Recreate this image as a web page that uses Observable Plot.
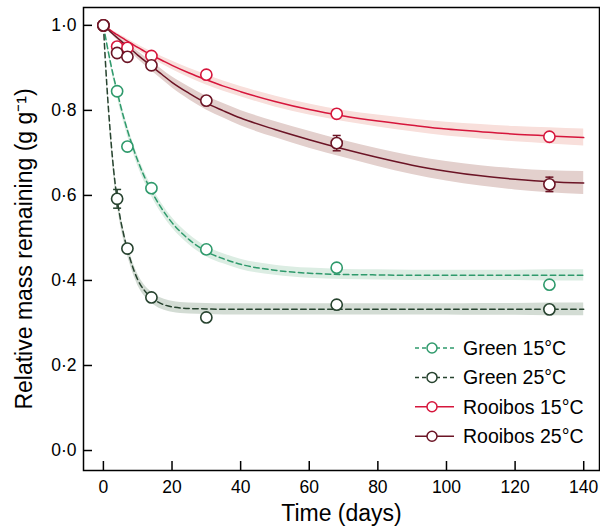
<!DOCTYPE html>
<html><head><meta charset="utf-8">
<script src="https://cdn.jsdelivr.net/npm/d3@7"></script>
<script src="https://cdn.jsdelivr.net/npm/@observablehq/plot@0.6"></script>
<style>
body{margin:0;background:#fff;}
#wrap{position:relative;width:600px;height:527px;}
#wrap svg.legend{position:absolute;left:0;top:0;pointer-events:none;}
</style></head><body><div id="wrap"></div>
<script>
// ---- data ----
const series = ["Green 15°C", "Green 25°C", "Rooibos 15°C", "Rooibos 25°C"];
const days = [0, 4, 7, 14, 30, 68, 130];
const green15 = [1.000, 0.845, 0.715, 0.617, 0.473, 0.430, 0.390];
const green25 = [1.000, 0.592, 0.475, 0.360, 0.313, 0.343, 0.332];
const rooibos15 = [1.000, 0.950, 0.947, 0.928, 0.884, 0.792, 0.738];
const rooibos25 = [1.000, 0.935, 0.926, 0.906, 0.823, 0.723, 0.626];
const green15Se = [0, 0.006, 0.006, 0.006, 0.006, 0.006, 0.006];
const green25Se = [0, 0.022, 0.006, 0.006, 0.005, 0.006, 0.005];
const rooibos15Se = [0, 0.004, 0.004, 0.004, 0.005, 0.005, 0.005];
const rooibos25Se = [0, 0.005, 0.005, 0.005, 0.006, 0.018, 0.017];

// fitted curves
const fitDays = [0,1,2,3,4,5,6,7,8,10,12,14,17,20,25,30,35,40,50,60,70,80,90,100,110,120,130,140];
const green15Fit = [1.000,0.956,0.915,0.878,0.845,0.811,0.781,0.753,0.728,0.682,0.643,0.610,0.569,0.536,0.496,0.468,0.451,0.438,0.424,0.417,0.414,0.413,0.412,0.412,0.412,0.412,0.412,0.412];
const green25Fit = [1.000,0.860,0.749,0.659,0.592,0.543,0.505,0.472,0.445,0.402,0.376,0.360,0.345,0.338,0.334,0.333,0.332,0.332,0.332,0.332,0.332,0.332,0.332,0.332,0.332,0.332,0.332,0.332];
const rooibos15Fit = [1.000,0.994,0.989,0.983,0.978,0.973,0.968,0.963,0.958,0.948,0.939,0.930,0.918,0.906,0.888,0.872,0.857,0.844,0.821,0.802,0.787,0.775,0.765,0.756,0.750,0.744,0.740,0.736];
const rooibos25Fit = [1.000,0.993,0.985,0.978,0.971,0.964,0.957,0.950,0.944,0.930,0.917,0.904,0.885,0.866,0.840,0.817,0.799,0.782,0.755,0.731,0.709,0.689,0.671,0.657,0.646,0.638,0.632,0.629];
// half-widths of the shaded confidence bands
const green15Band = [0,0.004,0.007,0.009,0.011,0.012,0.012,0.012,0.012,0.012,0.012,0.012,0.012,0.012,0.012,0.012,0.012,0.012,0.012,0.012,0.012,0.012,0.012,0.012,0.012,0.012,0.013,0.013];
const green25Band = [0,0.006,0.010,0.012,0.013,0.013,0.013,0.013,0.013,0.013,0.013,0.013,0.013,0.013,0.013,0.013,0.013,0.013,0.013,0.013,0.013,0.013,0.013,0.013,0.014,0.014,0.015,0.015];
const rooibos15Band = [0,0.001,0.002,0.003,0.004,0.004,0.005,0.005,0.006,0.007,0.007,0.008,0.009,0.010,0.011,0.012,0.012,0.012,0.013,0.013,0.013,0.014,0.015,0.016,0.017,0.018,0.019,0.020];
const rooibos25Band = [0,0.001,0.003,0.004,0.005,0.006,0.007,0.008,0.008,0.009,0.010,0.011,0.012,0.013,0.015,0.016,0.017,0.018,0.019,0.020,0.020,0.021,0.022,0.023,0.024,0.025,0.026,0.027];

const xTicks = [0, 20, 40, 60, 80, 100, 120, 140];
const yTicks = [0, 0.2, 0.4, 0.6, 0.8, 1.0];
const xLabel = "Time (days)";
const yLabel = "Relative mass remaining (g g\u207B\u00B9)";

// ---- styles ----
const lineColors = ["#2f9a6c", "#27432f", "#d6163c", "#6b1425"];
const bandColors = ["#dcede3", "#d3dcd4", "#f8dfdb", "#e3d0cd"];
const dashes = ["5.5,3.5", "5.5,3.5", null, null];
const font = "Liberation Sans, Arial, Helvetica, sans-serif";

const obsVals = [green15, green25, rooibos15, rooibos25];
const obsSe = [green15Se, green25Se, rooibos15Se, rooibos25Se];
const fitVals = [green15Fit, green25Fit, rooibos15Fit, rooibos25Fit];
const bandVals = [green15Band, green25Band, rooibos15Band, rooibos25Band];

const W = 600, H = 527, mL = 83, mR = 1, mT = 7, mB = 57;
const innerW = W - mL - mR, innerH = H - mT - mB;
const tickLen = 9;

const fmtY = d => d.toFixed(1).replace(".", "\u00B7");
const capSymbol = {draw(ctx) { ctx.moveTo(-4, 0); ctx.lineTo(4, 0); }};

const marks = [];
series.forEach((s, i) => {
  const rows = fitDays.map((t, j) => ({t, v: fitVals[i][j], lo: fitVals[i][j] - bandVals[i][j], hi: fitVals[i][j] + bandVals[i][j]}));
  marks.push(Plot.areaY(rows, {x: "t", y1: "lo", y2: "hi", fill: bandColors[i], curve: "monotone-x"}));
});
series.forEach((s, i) => {
  const rows = fitDays.map((t, j) => ({t, v: fitVals[i][j]}));
  marks.push(Plot.line(rows, {x: "t", y: "v", stroke: lineColors[i], strokeWidth: 1.5, strokeDasharray: dashes[i], curve: "monotone-x"}));
});
series.forEach((s, i) => {
  const pts = days.map((t, j) => ({t, y: obsVals[i][j], se: obsSe[i][j]}));
  marks.push(Plot.ruleX(pts, {x: "t", y1: d => d.y - d.se, y2: d => d.y + d.se, stroke: lineColors[i], strokeWidth: 1.5}));
  marks.push(Plot.dot(pts, {x: "t", y: d => d.y + d.se, symbol: capSymbol, stroke: lineColors[i], strokeWidth: 1.5}));
  marks.push(Plot.dot(pts, {x: "t", y: d => d.y - d.se, symbol: capSymbol, stroke: lineColors[i], strokeWidth: 1.5}));
});
series.forEach((s, i) => {
  const pts = days.map((t, j) => ({t, y: obsVals[i][j]}));
  marks.push(Plot.dot(pts, {x: "t", y: "y", r: 5.6, fill: "white", stroke: lineColors[i], strokeWidth: 1.6}));
});

// axes: inward ticks, labels outside
marks.push(Plot.ruleX(xTicks, {x: d => d, insetTop: innerH - tickLen, stroke: "black", strokeWidth: 1.5}));
marks.push(Plot.ruleY(yTicks, {y: d => d, insetRight: innerW - tickLen, stroke: "black", strokeWidth: 1.5}));
marks.push(Plot.axisX({ticks: xTicks, tickSize: 0, tickPadding: 10, fontSize: 17.5, label: null}));
marks.push(Plot.axisY({ticks: yTicks, tickSize: 0, tickPadding: 7, fontSize: 17.5, tickFormat: fmtY, label: null}));
marks.push(Plot.frame({stroke: "black", strokeWidth: 1.5}));
marks.push(Plot.text([xLabel], {frameAnchor: "bottom", dy: 43, textAnchor: "middle", lineAnchor: "middle", fontSize: 23, fill: "black"}));
marks.push(Plot.text([yLabel], {frameAnchor: "left", dx: -59, dy: 10, rotate: -90, textAnchor: "middle", lineAnchor: "middle", fontSize: 23, fill: "black"}));

const chart = Plot.plot({
  width: W, height: H,
  marginLeft: mL, marginRight: mR, marginTop: mT, marginBottom: mB,
  style: {fontFamily: font, color: "black", background: "white", overflow: "visible"},
  x: {domain: [-5.8, 144.6]},
  y: {domain: [-0.047, 1.042]},
  marks
});
const wrap = document.getElementById("wrap");
wrap.appendChild(chart);

// legend
const leg = d3.select(wrap).append("svg").attr("class", "legend").attr("width", W).attr("height", H)
  .style("font-family", font);
const legX0 = 415, legX1 = 454, legCx = 432, legTx = 463, legY0 = 348, legStep = 29.4;
series.forEach((s, i) => {
  const g = leg.append("g").attr("transform", `translate(0,${legY0 + i * legStep})`);
  g.append("line").attr("x1", legX0).attr("x2", legX1).attr("y1", 0).attr("y2", 0)
    .attr("stroke", lineColors[i]).attr("stroke-width", 1.5).attr("stroke-dasharray", dashes[i] ? "4,3" : null);
  g.append("circle").attr("cx", legCx).attr("cy", 0).attr("r", 5).attr("fill", "white")
    .attr("stroke", lineColors[i]).attr("stroke-width", 1.5);
  g.append("text").attr("x", legTx).attr("y", 0).attr("dy", "0.36em").attr("font-size", 19.5)
    .attr("fill", "black").text(s);
});
</script></body></html>
